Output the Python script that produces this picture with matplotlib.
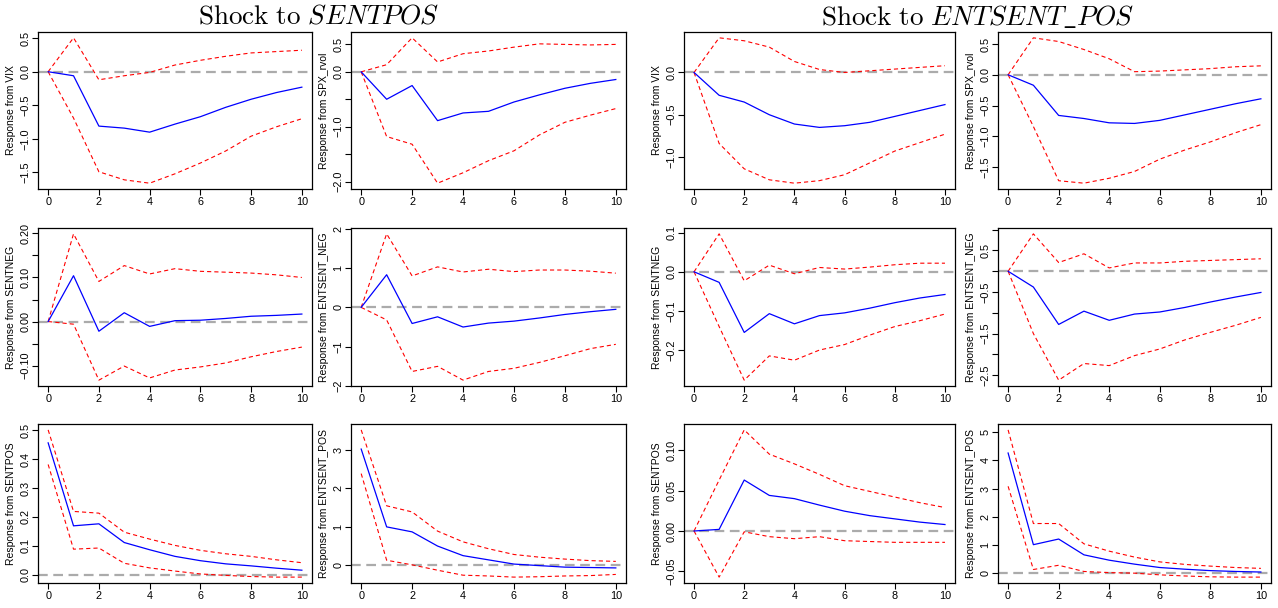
import matplotlib
matplotlib.use("Agg")
import matplotlib.pyplot as plt
import numpy as np

# ── Data (horizons 0..10) ────────────────────────────────────────────────────
HORIZON = list(range(11))

# Shock to SENTPOS
VIX_SP_MID = [0, -0.06, -0.81, -0.84, -0.90, -0.78, -0.67, -0.53, -0.41, -0.31, -0.23]
VIX_SP_HI = [0, 0.505, -0.12, -0.06, -0.01, 0.10, 0.17, 0.23, 0.28, 0.30, 0.32]
VIX_SP_LO = [0, -0.69, -1.49, -1.61, -1.66, -1.52, -1.36, -1.18, -0.96, -0.82, -0.70]

SPX_SP_MID = [0, -0.50, -0.25, -0.89, -0.75, -0.72, -0.55, -0.42, -0.30, -0.21, -0.14]
SPX_SP_HI = [0, 0.13, 0.62, 0.18, 0.33, 0.38, 0.45, 0.51, 0.50, 0.49, 0.50]
SPX_SP_LO = [0, -1.18, -1.32, -2.03, -1.84, -1.62, -1.44, -1.15, -0.92, -0.79, -0.67]

NEG_SP_MID = [0, 0.104, -0.022, 0.020, -0.011, 0.002, 0.003, 0.007, 0.012, 0.014, 0.017]
NEG_SP_HI = [0, 0.199, 0.091, 0.127, 0.108, 0.120, 0.114, 0.112, 0.110, 0.106, 0.100]
NEG_SP_LO = [0, -0.006, -0.133, -0.101, -0.128, -0.110, -0.103, -0.094, -0.080, -0.068, -0.058]

ENEG_SP_MID = [0, 0.83, -0.41, -0.24, -0.50, -0.40, -0.35, -0.27, -0.18, -0.11, -0.05]
ENEG_SP_HI = [0, 1.87, 0.80, 1.03, 0.90, 0.97, 0.91, 0.95, 0.95, 0.92, 0.87]
ENEG_SP_LO = [0, -0.32, -1.63, -1.50, -1.85, -1.63, -1.55, -1.40, -1.23, -1.05, -0.94]

POS_SP_MID = [0.457, 0.169, 0.176, 0.111, 0.086, 0.063, 0.048, 0.037, 0.030, 0.022, 0.015]
POS_SP_HI = [0.502, 0.219, 0.213, 0.147, 0.123, 0.101, 0.084, 0.072, 0.063, 0.051, 0.041]
POS_SP_LO = [0.382, 0.088, 0.092, 0.039, 0.023, 0.012, 0.002, -0.003, -0.007, -0.009, -0.009]

EPOS_SP_MID = [3.02, 0.99, 0.86, 0.49, 0.24, 0.13, 0.02, -0.02, -0.06, -0.07, -0.08]
EPOS_SP_HI = [3.52, 1.54, 1.38, 0.88, 0.60, 0.42, 0.27, 0.20, 0.15, 0.11, 0.09]
EPOS_SP_LO = [2.38, 0.12, 0.0, -0.14, -0.27, -0.29, -0.32, -0.31, -0.29, -0.28, -0.25]

# Shock to ENTSENT_POS
VIX_EP_MID = [0, -0.27, -0.35, -0.50, -0.61, -0.65, -0.63, -0.59, -0.52, -0.45, -0.38]
VIX_EP_HI = [0, 0.41, 0.375, 0.30, 0.13, 0.035, 0.0, 0.02, 0.04, 0.06, 0.08]
VIX_EP_LO = [0, -0.84, -1.14, -1.27, -1.31, -1.28, -1.21, -1.07, -0.93, -0.83, -0.73]

SPX_EP_MID = [0, -0.17, -0.66, -0.71, -0.78, -0.79, -0.74, -0.65, -0.56, -0.47, -0.39]
SPX_EP_HI = [0, 0.60, 0.54, 0.41, 0.26, 0.05, 0.06, 0.08, 0.10, 0.13, 0.145]
SPX_EP_LO = [0, -0.84, -1.72, -1.76, -1.68, -1.57, -1.37, -1.22, -1.09, -0.94, -0.81]

NEG_EP_MID = [0, -0.027, -0.155, -0.107, -0.133, -0.112, -0.105, -0.093, -0.079, -0.067, -0.058]
NEG_EP_HI = [0, 0.097, -0.023, 0.017, -0.005, 0.011, 0.007, 0.012, 0.018, 0.022, 0.022]
NEG_EP_LO = [0, -0.14, -0.277, -0.215, -0.226, -0.200, -0.186, -0.162, -0.140, -0.125, -0.108]

ENEG_EP_MID = [0, -0.38, -1.28, -0.96, -1.18, -1.03, -0.98, -0.87, -0.74, -0.62, -0.51]
ENEG_EP_HI = [0, 0.90, 0.21, 0.42, 0.08, 0.20, 0.20, 0.24, 0.26, 0.28, 0.30]
ENEG_EP_LO = [0, -1.50, -2.62, -2.22, -2.27, -2.03, -1.87, -1.65, -1.47, -1.30, -1.11]

POS_EP_MID = [0, 0.002, 0.063, 0.044, 0.040, 0.032, 0.0245, 0.019, 0.015, 0.011, 0.008]
POS_EP_HI = [0, 0.063, 0.125, 0.095, 0.083, 0.070, 0.056, 0.049, 0.042, 0.035, 0.029]
POS_EP_LO = [0, -0.057, -0.001, -0.007, -0.0095, -0.007, -0.012, -0.013, -0.014, -0.014, -0.014]

EPOS_EP_MID = [4.26, 1.01, 1.21, 0.65, 0.46, 0.32, 0.20, 0.14, 0.09, 0.06, 0.04]
EPOS_EP_HI = [5.08, 1.76, 1.76, 1.04, 0.78, 0.57, 0.40, 0.31, 0.25, 0.20, 0.17]
EPOS_EP_LO = [3.08, 0.13, 0.28, 0.06, 0.02, 0.0, -0.06, -0.10, -0.13, -0.14, -0.14]

SHOCK_TITLES = [r"$\mathrm{Shock\ to}\ SENTPOS$", r"$\mathrm{Shock\ to}\ ENTSENT\_POS$"]

# (row, col, ylabel, mid, lo, hi, ytick values, ytick labels)
PANELS = [
    (0, 0, "Response from VIX", VIX_SP_MID, VIX_SP_LO, VIX_SP_HI,
     [0.5, 0.0, -0.5, -1.0, -1.5], ["0.5", "0.0", "\u22120.5", "\u22121.0", "\u22121.5"]),
    (0, 1, "Response from SPX_rvol", SPX_SP_MID, SPX_SP_LO, SPX_SP_HI,
     [0.5, 0.0, -0.5, -1.0, -1.5, -2.0], ["0.5", "0.0", "", "\u22121.0", "", "\u22122.0"]),
    (1, 0, "Response from SENTNEG", NEG_SP_MID, NEG_SP_LO, NEG_SP_HI,
     [0.20, 0.15, 0.10, 0.05, 0.0, -0.05, -0.10], ["0.20", "", "0.10", "", "0.00", "", "\u22120.10"]),
    (1, 1, "Response from ENTSENT_NEG", ENEG_SP_MID, ENEG_SP_LO, ENEG_SP_HI,
     [2, 1, 0, -1, -2], ["2", "1", "0", "\u22121", "\u22122"]),
    (2, 0, "Response from SENTPOS", POS_SP_MID, POS_SP_LO, POS_SP_HI,
     [0.5, 0.4, 0.3, 0.2, 0.1, 0.0], ["0.5", "0.4", "0.3", "0.2", "0.1", "0.0"]),
    (2, 1, "Response from ENTSENT_POS", EPOS_SP_MID, EPOS_SP_LO, EPOS_SP_HI,
     [3, 2, 1, 0], ["3", "2", "1", "0"]),
    (0, 2, "Response from VIX", VIX_EP_MID, VIX_EP_LO, VIX_EP_HI,
     [0.0, -0.5, -1.0], ["0.0", "\u22120.5", "\u22121.0"]),
    (0, 3, "Response from SPX_rvol", SPX_EP_MID, SPX_EP_LO, SPX_EP_HI,
     [0.5, 0.0, -0.5, -1.0, -1.5], ["0.5", "0.0", "\u22120.5", "\u22121.0", "\u22121.5"]),
    (1, 2, "Response from SENTNEG", NEG_EP_MID, NEG_EP_LO, NEG_EP_HI,
     [0.1, 0.0, -0.1, -0.2], ["0.1", "0.0", "\u22120.1", "\u22120.2"]),
    (1, 3, "Response from ENTSENT_NEG", ENEG_EP_MID, ENEG_EP_LO, ENEG_EP_HI,
     [1.0, 0.5, 0.0, -0.5, -1.0, -1.5, -2.0, -2.5],
     ["", "0.5", "", "\u22120.5", "", "\u22121.5", "", "\u22122.5"]),
    (2, 2, "Response from SENTPOS", POS_EP_MID, POS_EP_LO, POS_EP_HI,
     [0.10, 0.05, 0.0, -0.05], ["0.10", "0.05", "0.00", "\u22120.05"]),
    (2, 3, "Response from ENTSENT_POS", EPOS_EP_MID, EPOS_EP_LO, EPOS_EP_HI,
     [5, 4, 3, 2, 1, 0], ["5", "4", "3", "2", "1", "0"]),
]

# ── Layout (pixel boxes in a 1278x608 figure) ────────────────────────────────
W, H = 1278, 608
COL_X = [(38, 312), (351, 626), (684, 955), (998, 1271)]
ROW_Y = [(32, 189), (228, 386), (424, 583)]
TITLE_X = [319, 978]

plt.rcParams["font.family"] = ["Liberation Sans", "DejaVu Sans"]
plt.rcParams["mathtext.fontset"] = "cm"
plt.rcParams["lines.scale_dashes"] = False

fig = plt.figure(figsize=(W / 100, H / 100), dpi=100)

for row, col, ylab, mid, lo, hi, yt, ytl in PANELS:
    x0, x1 = COL_X[col]
    y0, y1 = ROW_Y[row]
    ax = fig.add_axes([x0 / W, 1 - y1 / H, (x1 - x0) / W, (y1 - y0) / H])

    ax.axhline(0, color="#ABABAB", lw=1.6, dashes=(7, 4), zorder=1)
    ax.plot(HORIZON, hi, color="#FF0000", lw=0.8, dashes=(3, 2.2), zorder=2)
    ax.plot(HORIZON, lo, color="#FF0000", lw=0.8, dashes=(3, 2.2), zorder=2)
    ax.plot(HORIZON, mid, color="#0000FF", lw=0.9, zorder=3)

    ymin = min(lo)
    ymax = max(hi)
    pad = 0.04 * (ymax - ymin)
    ax.set_ylim(ymin - pad, ymax + pad)
    ax.set_xlim(-0.4, 10.4)

    ax.set_xticks([0, 2, 4, 6, 8, 10])
    ax.set_yticks(yt)
    ax.set_yticklabels(ytl, rotation=90, va="center")
    ax.tick_params(axis="both", direction="out", length=4, width=0.8,
                   labelsize=7.8, colors="black", pad=2)
    ax.tick_params(axis="y", pad=1.5)
    ax.set_ylabel(ylab, fontsize=7.5, labelpad=3)
    for sp in ax.spines.values():
        sp.set_linewidth(0.9)
        sp.set_color("black")

# Column-pair titles
for tx, title in zip(TITLE_X, SHOCK_TITLES):
    fig.text(tx / W, 1 - 17 / H, title, ha="center", va="center", fontsize=19.5)

fig.savefig("out.png", dpi=100)
